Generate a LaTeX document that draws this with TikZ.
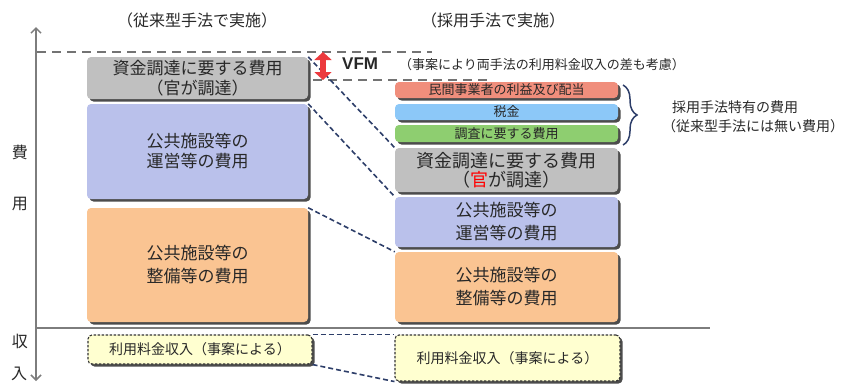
\documentclass[tikz,border=0pt]{standalone}
\usepackage{fontspec}
\setmainfont{Noto Sans CJK JP}
\newfontfamily\lsans{Liberation Sans}
\usetikzlibrary{arrows.meta,shadows,decorations.pathreplacing}
\definecolor{cgray}{RGB}{192,192,192}
\definecolor{clav}{RGB}{186,193,235}
\definecolor{corange}{RGB}{250,196,146}
\definecolor{csalmon}{RGB}{240,142,124}
\definecolor{csky}{RGB}{140,200,248}
\definecolor{cgreen}{RGB}{142,206,112}
\definecolor{cyellow}{RGB}{255,255,208}
\definecolor{cnavy}{RGB}{45,62,105}
\definecolor{caxis}{RGB}{125,125,125}
\definecolor{cvfm}{RGB}{236,58,62}
\definecolor{ctext}{RGB}{40,40,40}
\begin{document}
\begin{tikzpicture}[x=1pt,y=-1pt,
  box/.style={rounded corners=4pt, inner sep=0pt, align=center, text=ctext,
    drop shadow={shadow xshift=2.5pt,shadow yshift=-2.5pt,fill=black!70,opacity=1}},
  incbox/.style={box, fill=cyellow, draw=black!80, line width=1.1pt, dash pattern=on 2.5pt off 1.5pt},
  conn/.style={draw=cnavy, line width=1.6pt, dash pattern=on 5pt off 3pt},
  guide/.style={draw=black!55, line width=1.8pt, dash pattern=on 9pt off 6pt},
  axisline/.style={draw=caxis, line width=1.5pt},
  lbl/.style={inner sep=0pt, text=ctext},
  fbig/.style={font=\fontsize{17}{20}\selectfont},
  fsmall/.style={font=\fontsize{13}{14}\selectfont}
]
\useasboundingbox (0,0) rectangle (858,383);

% axes
\coordinate (axtop) at (36,27);
\coordinate (axbot) at (36,381);
\coordinate (baseL) at (36,328);
\coordinate (baseR) at (710,328);
\draw[axisline, {Straight Barb[length=5pt,width=10pt]}-{Straight Barb[length=5pt,width=10pt]}] (axtop) -- (axbot);
\draw[axisline] (baseL) -- (baseR);

% guides
\coordinate (g1a) at (37,52);
\coordinate (g1b) at (432,52);
\coordinate (g2a) at (313,80);
\coordinate (g2b) at (492,80);
\draw[guide] (g1a) -- (g1b);
\draw[guide] (g2a) -- (g2b);

% titles
\node[lbl, font=\fontsize{16}{18}\selectfont] (t1) at (197,20) {（従来型手法で実施）};
\node[lbl, font=\fontsize{16}{18}\selectfont] (t2) at (493,20) {（採用手法で実施）};

% axis labels
\node[lbl, font=\fontsize{16}{16}\selectfont] (ah1) at (20,152) {費};
\node[lbl, font=\fontsize{16}{16}\selectfont] (ah2) at (20,204) {用};
\node[lbl, font=\fontsize{16}{16}\selectfont] (ai1) at (20,341) {収};
\node[lbl, font=\fontsize{16}{16}\selectfont] (ai2) at (19,374) {入};

% left column
\node[box, fill=cgray, minimum width=221pt, minimum height=42pt, fbig] (lgray) at (197.5,78) {資金調達に要する費用\\（官が調達）};
\node[box, fill=clav, minimum width=221pt, minimum height=95pt, fbig] (lblue) at (197.5,151.5) {公共施設等の\\運営等の費用};
\node[box, fill=corange, minimum width=221pt, minimum height=114pt, font=\fontsize{17}{23}\selectfont] (lorange) at (197.5,265) {公共施設等の\\整備等の費用};
\node[incbox, minimum width=224pt, minimum height=29pt, font=\fontsize{14}{16}\selectfont] (linc) at (200,349.5) {利用料金収入（事案による）};

% right column
\node[box, fill=csalmon, minimum width=223pt, minimum height=16pt, fsmall] (rred) at (506.5,90) {民間事業者の利益及び配当};
\node[box, fill=csky, minimum width=223pt, minimum height=16pt, fsmall] (rsky) at (506.5,112) {税金};
\node[box, fill=cgreen, minimum width=223pt, minimum height=17pt, fsmall] (rgreen) at (506.5,133.5) {調査に要する費用};
\node[box, fill=cgray, minimum width=223pt, minimum height=44pt, font=\fontsize{18}{19}\selectfont] (rgray) at (506.5,170) {資金調達に要する費用\\（\textcolor{red}{官}が調達）};
\node[box, fill=clav, minimum width=223pt, minimum height=50pt, font=\fontsize{17}{23}\selectfont] (rblue) at (506.5,222) {公共施設等の\\運営等の費用};
\node[box, fill=corange, minimum width=223pt, minimum height=70pt, font=\fontsize{17}{23}\selectfont] (rorange) at (506.5,287) {公共施設等の\\整備等の費用};
\node[incbox, minimum width=225pt, minimum height=46pt, font=\fontsize{14}{16}\selectfont] (rinc) at (507.5,358) {利用料金収入（事案による）};

% connectors
\draw[conn] (lgray.north east) -- (rgray.north west);
\draw[conn] (lblue.north east) -- (rblue.north west);
\draw[conn] (lorange.north east) -- (rorange.north west);
\draw[conn] (linc.north east) -- (rinc.north west);
\draw[conn] (linc.south east) -- (rinc.south west);

% VFM
\coordinate (vfmtop) at (323,52);
\coordinate (vfmbot) at (323,80);
\draw[cvfm, line width=6pt, {Triangle[length=8pt,width=17pt]}-{Triangle[length=8pt,width=17pt]}] (vfmtop) -- (vfmbot);
\node[lbl, font=\lsans\bfseries\fontsize{17}{18}\selectfont, anchor=west] (vfm) at (342,64) {VFM};
\node[lbl, font=\fontsize{13}{14}\selectfont, anchor=west] (vfmnote) at (399,65) {（事案により両手法の利用料金収入の差も考慮）};

% brace
\coordinate (br1) at (623,85);
\coordinate (br2) at (623,145);
\draw[cnavy, line width=1.5pt, decorate, decoration={brace, amplitude=14pt}] (br1) -- (br2);
\node[lbl, font=\fontsize{14}{16}\selectfont, anchor=west] (sp1) at (672,107) {採用手法特有の費用};
\node[lbl, font=\fontsize{14}{16}\selectfont, anchor=west] (sp2) at (662,126) {（従来型手法には無い費用）};
\end{tikzpicture}
\end{document}
